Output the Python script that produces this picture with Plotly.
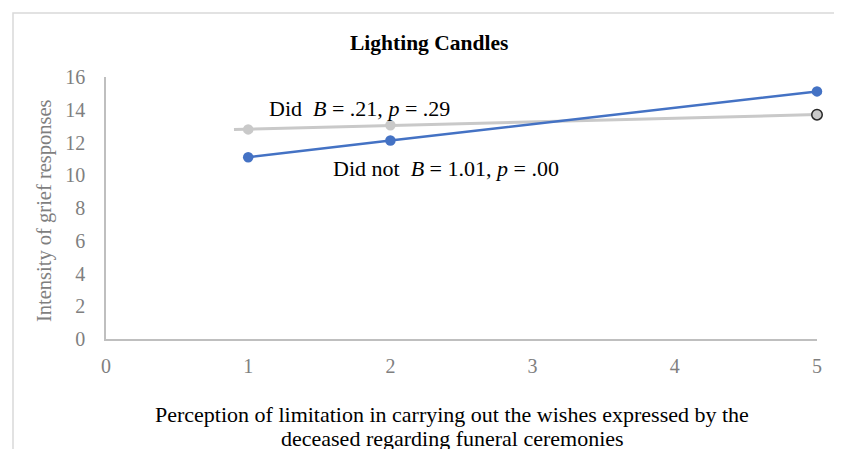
import numpy as np
import plotly.graph_objects as go

x_vals = [1, 2, 5]
did = [12.8, 13.05, 13.7]
did_not = [11.1, 12.12, 15.12]
x_ticks = [0, 1, 2, 3, 4, 5]
y_ticks = [0, 2, 4, 6, 8, 10, 12, 14, 16]

OFF = 8  # default page body margin
W, H = 842 - OFF, 449 - OFF
# screen coordinates of the plot area
SX0, SX1, SY0, SY1 = 106, 817, 77, 339
L, T = SX0 - OFF, SY0 - OFF
pw, ph = SX1 - SX0, SY1 - SY0
R, B = W - L - pw, H - T - ph


def px(xs):
    return (xs - SX0) / pw


def py(ys):
    return (SY1 - ys) / ph


SERIF = "Liberation Serif, Times New Roman, serif"

# linear trendline for "Did" with backward forecast 0.1
slope, icpt = np.polyfit(x_vals, did, 1)
tx = np.array([x_vals[0] - 0.1, x_vals[-1]])
ty = icpt + slope * tx

fig = go.Figure()
fig.add_trace(go.Scatter(x=tx, y=ty, mode="lines",
                         line=dict(color="#c9c9c9", width=3),
                         showlegend=False, hoverinfo="skip", cliponaxis=False))
fig.add_trace(go.Scatter(x=x_vals, y=did, mode="markers",
                         marker=dict(color="#c9c9c9", size=10.5,
                                     line=dict(color=["rgba(0,0,0,0)", "rgba(0,0,0,0)", "#262626"], width=1.5)),
                         showlegend=False, cliponaxis=False, name="Did"))
fig.add_trace(go.Scatter(x=x_vals, y=did_not, mode="lines+markers",
                         line=dict(color="#4472c4", width=2.5),
                         marker=dict(color="#4472c4", size=10.5),
                         showlegend=False, cliponaxis=False, name="Did not"))

fig.update_layout(
    width=W, height=H,
    margin=dict(l=L, r=R, t=T, b=B, pad=0),
    paper_bgcolor="white", plot_bgcolor="white",
    font=dict(family=SERIF),
    xaxis=dict(range=[0, 5], tickvals=x_ticks, showgrid=False, zeroline=False,
               showline=True, linecolor="#bfbfbf", linewidth=1.5, ticks="",
               tickfont=dict(size=20, color="#7f7f7f", family=SERIF),
               ticklabelstandoff=8),
    yaxis=dict(range=[0, 16], tickvals=y_ticks, showgrid=False, zeroline=False,
               showline=True, linecolor="#bfbfbf", linewidth=1.5, ticks="",
               tickfont=dict(size=20, color="#7f7f7f", family=SERIF),
               ticklabelstandoff=15),
    shapes=[dict(type="rect", xref="paper", yref="paper",
                 x0=px(13), x1=px(870), y0=py(480), y1=py(13),
                 line=dict(color="#d9d9d9", width=1.5), layer="below")],
    annotations=[
        dict(text="<b>Lighting Candles</b>", xref="paper", yref="paper",
             x=px(429), y=py(43), xanchor="center", yanchor="middle",
             showarrow=False, font=dict(size=21.5, color="black", family=SERIF)),
        dict(text="Intensity of grief responses", xref="paper", yref="paper",
             x=px(44), y=py(211), xanchor="center", yanchor="middle", textangle=-90,
             showarrow=False, font=dict(size=20.5, color="#7f7f7f", family=SERIF)),
        dict(text="Perception of limitation in carrying out the wishes expressed by the",
             xref="paper", yref="paper", x=px(452), y=py(414), xanchor="center", yanchor="middle",
             showarrow=False, font=dict(size=22, color="black", family=SERIF)),
        dict(text="deceased regarding funeral ceremonies",
             xref="paper", yref="paper", x=px(452), y=py(438), xanchor="center", yanchor="middle",
             showarrow=False, font=dict(size=22, color="black", family=SERIF)),
        dict(text="Did&nbsp;&nbsp;<i>B</i> = .21, <i>p</i> = .29", xref="paper", yref="paper",
             x=px(267), y=py(108), xanchor="left", yanchor="middle",
             showarrow=False, font=dict(size=22, color="black", family=SERIF)),
        dict(text="Did not&nbsp;&nbsp;<i>B</i> = 1.01, <i>p</i> = .00", xref="paper", yref="paper",
             x=px(331), y=py(168), xanchor="left", yanchor="middle",
             showarrow=False, font=dict(size=22, color="black", family=SERIF)),
    ],
)

fig.write_html("out.html")
